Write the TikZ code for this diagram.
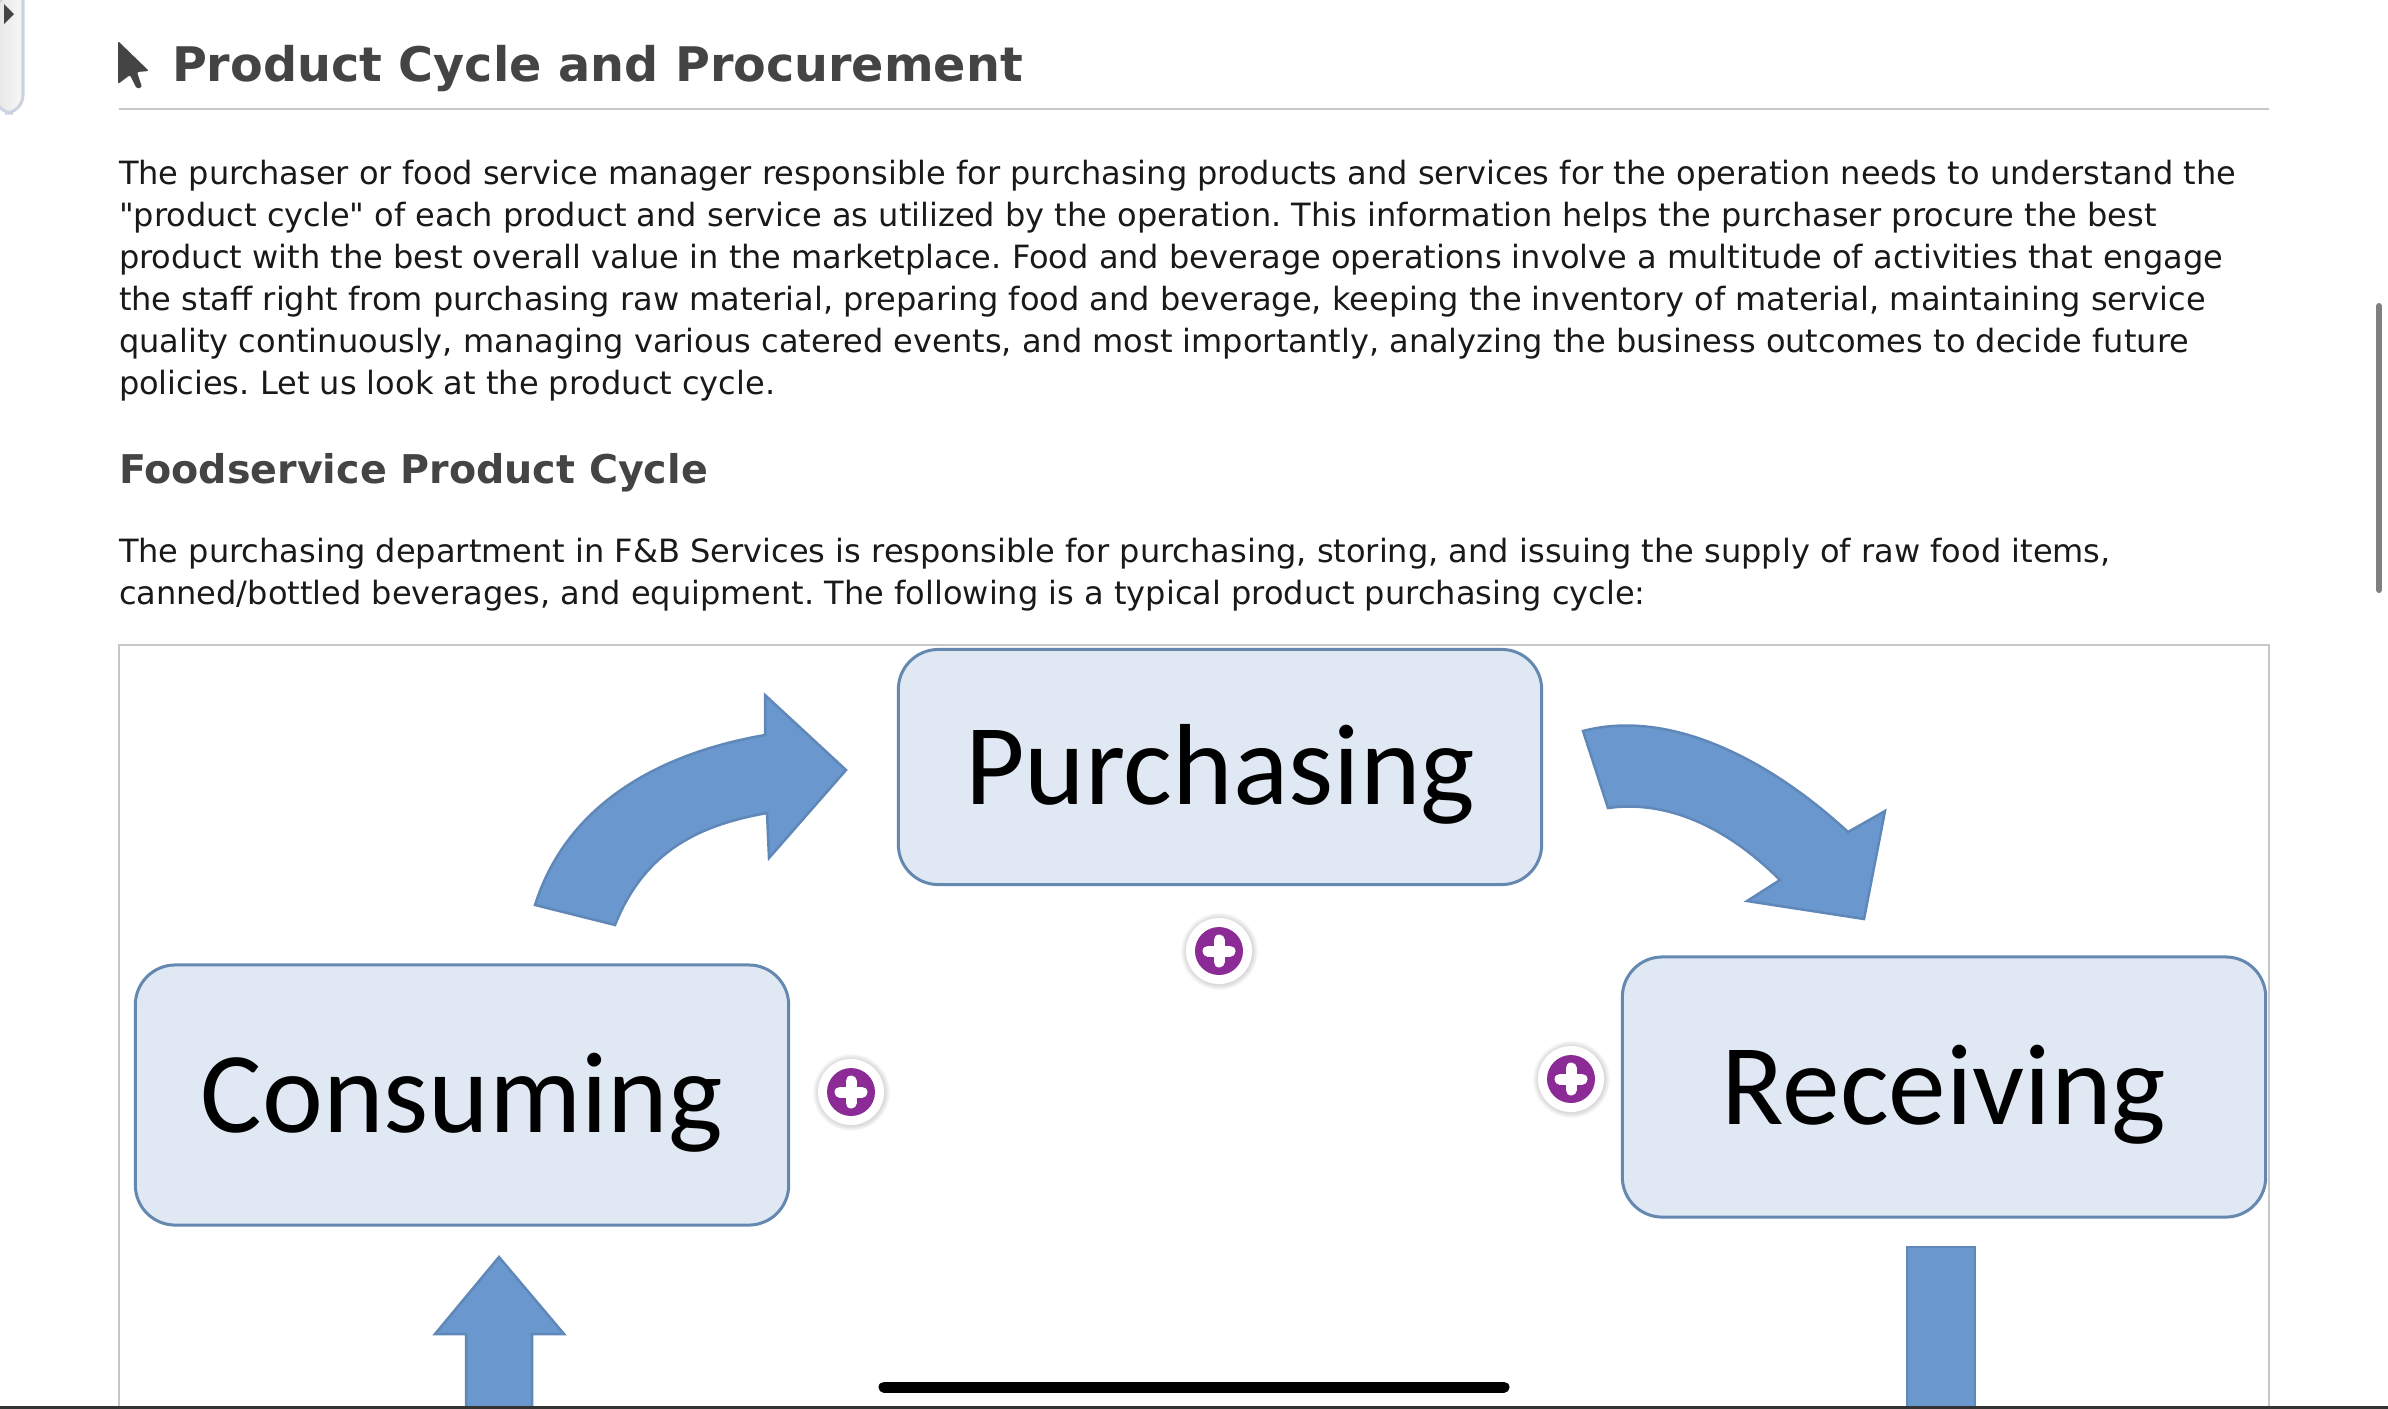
\documentclass[tikz,border=0pt]{standalone}
\usepackage{fontspec}
\usetikzlibrary{shadows}
\setmainfont{DejaVu Sans}[Ligatures=TeXOff]
\newfontfamily\boxfont{Carlito}
\definecolor{arrowblue}{HTML}{6A97CD}
\definecolor{boxfill}{HTML}{DFE8F3}
\definecolor{boxline}{HTML}{6488B0}
\definecolor{plusviolet}{HTML}{8C2A96}
\definecolor{headgray}{HTML}{444444}
\definecolor{tabline}{HTML}{CDD2E2}
\frenchspacing
\begin{document}
\begin{tikzpicture}[x=0.01cm, y=-0.01cm,
    bodyline/.style = {anchor=base west, inner sep=0pt, outer sep=0pt, text=black!90, font=\fontsize{9.11}{11}\selectfont},
    headline/.style = {anchor=base west, inner sep=0pt, outer sep=0pt, text=headgray, font=\bfseries\fontsize{#1}{12}\selectfont},
    stepbox/.style = {draw=boxline, line width=1mm*0.3, fill=boxfill, rounded corners=0.4cm, inner sep=0pt, text height=1cm, text depth=0.25cm, font=\boxfont\fontsize{32.8}{36}\selectfont},
    bigarrow/.style = {fill=arrowblue, draw=arrowblue!90!black, line width=0.25mm},
    plusdisc/.style = {circle, fill=white, minimum size=0.66cm, inner sep=0pt, circular drop shadow={shadow xshift=0pt, shadow yshift=0pt, shadow scale=1.18, opacity=0.3}}]
    \useasboundingbox (0,0) rectangle (2388,1408);
    % sidebar tab
    \draw[draw=tabline, line width=0.3mm, left color=black!10, right color=black!3] (-5,-5) -- (23,-5) -- (23,95) [rounded corners=0.18cm] -- (23,113) -- (-5,113) -- cycle;
    \fill[headgray] (4,4) -- (14,14) -- (4,24) -- cycle;
    % heading
    \fill[headgray, rounded corners=0.02cm] (118,41) -- (149,71) -- (137,72) -- (142,87) -- (137,89) -- (130,75) -- (118,84) -- cycle;
    \node (title) at (172,81) [headline=13.55] {Product Cycle and Procurement};
    \draw[black!22, line width=0.22mm] (119,109) -- (2269,109);
    \node (line1) at (119,184) [bodyline] {The purchaser or food service manager responsible for purchasing products and services for the operation needs to understand the};
    \node (line2) at (119,226) [bodyline] {"product cycle" of each product and service as utilized by the operation. This information helps the purchaser procure the best};
    \node (line3) at (119,268) [bodyline] {product with the best overall value in the marketplace. Food and beverage operations involve a multitude of activities that engage};
    \node (line4) at (119,310) [bodyline] {the staff right from purchasing raw material, preparing food and beverage, keeping the inventory of material, maintaining service};
    \node (line5) at (119,352) [bodyline] {quality continuously, managing various catered events, and most importantly, analyzing the business outcomes to decide future};
    \node (line6) at (119,394) [bodyline] {policies. Let us look at the product cycle.};
    \node (subtitle) at (119,483) [headline=11.26] {Foodservice Product Cycle};
    \node (line7) at (119,562) [bodyline] {The purchasing department in F\&B Services is responsible for purchasing, storing, and issuing the supply of raw food items,};
    \node (line8) at (119,604) [bodyline] {canned/bottled beverages, and equipment. The following is a typical product purchasing cycle:};
    % panel
    \draw[black!22, line width=0.25mm] (119,1407) -- (119,645) -- (2269,645) -- (2269,1407);
    \node (purchasing) at (1220,767) [stepbox, minimum width=6.43cm, minimum height=2.35cm] {Purchasing};
    \node (receiving) at (1944,1087) [stepbox, minimum width=6.43cm, minimum height=2.6cm] {Receiving};
    \node (consuming) at (462,1095) [stepbox, minimum width=6.53cm, minimum height=2.6cm] {Consuming};
    % arrows
    \filldraw[bigarrow] (535,905) .. controls (565,810) and (650,755) .. (765,735) -- (765,695) -- (846,770) -- (769,858) -- (767,813) .. controls (700,825) and (645,850) .. (615,925) -- cycle;
    \filldraw[bigarrow] (1583,731) .. controls (1670,708) and (1770,760) .. (1848,832) -- (1885,811) -- (1864,919) -- (1747,901) -- (1780,880) .. controls (1725,825) and (1665,800) .. (1608,808) -- cycle;
    \filldraw[bigarrow] (499,1257) -- (564,1334) -- (532,1334) -- (532,1407) -- (466,1407) -- (466,1334) -- (435,1334) -- cycle;
    \filldraw[bigarrow] (1907,1247) -- (1975,1247) -- (1975,1407) -- (1907,1407) -- cycle;
    % plus buttons
    \node (plusa) at (1219,951) [plusdisc] {};
    \fill[plusviolet] (plusa) circle (24);
    \draw[white, line width=0.11cm, line cap=round] (1208,951) -- (1230,951) (1219,940) -- (1219,962);
    \node (plusb) at (851,1092) [plusdisc] {};
    \fill[plusviolet] (plusb) circle (24);
    \draw[white, line width=0.11cm, line cap=round] (840,1092) -- (862,1092) (851,1081) -- (851,1103);
    \node (plusc) at (1571,1079) [plusdisc] {};
    \fill[plusviolet] (plusc) circle (24);
    \draw[white, line width=0.11cm, line cap=round] (1560,1079) -- (1582,1079) (1571,1068) -- (1571,1090);
    % screen furniture
    \draw[black!50, line width=0.06cm, line cap=round] (2379,306) -- (2379,590);
    \draw[black, line width=0.11cm, line cap=round] (884,1387) -- (1504,1387);
    \draw[black!80, line width=0.03cm] (0,1407) -- (2388,1407);
\end{tikzpicture}
\end{document}
